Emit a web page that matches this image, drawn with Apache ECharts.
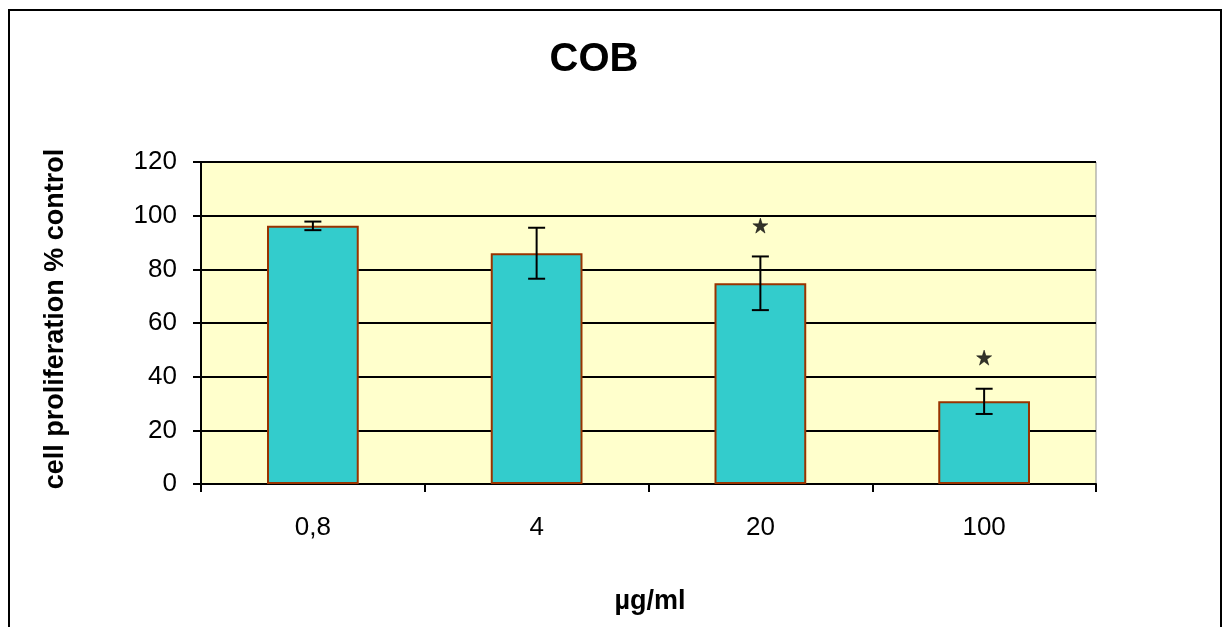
<!DOCTYPE html>
<html>
<head>
<meta charset="utf-8">
<script src="https://cdn.jsdelivr.net/npm/echarts@6/dist/echarts.min.js"></script>
<style>
  html, body { margin: 0; padding: 0; background: #fff; }
  #chart { width: 1227px; height: 627px; }
</style>
</head>
<body>
<div id="chart"></div>
<script>
// Concentrations and mean proliferation (% of control) with error
const categories = ['0,8', '4', '20', '100'];
const means = [96.2, 86.0, 74.8, 30.8];
const errors = [1.6, 9.5, 10.0, 4.7];
// Significance markers (value position of the star; null = none)
const stars = [null, null, 96.3, 47.1];
const yTicks = { min: 0, max: 120, interval: 20 };

const FONT = 'Liberation Sans, Arial, sans-serif';
const chart = echarts.init(document.getElementById('chart'), null, { renderer: 'canvas' });

const errData = categories.map((c, i) => [i, means[i] - errors[i], means[i] + errors[i]]);
const starData = categories.map((c, i) => stars[i] == null ? null : [i, stars[i]]).filter(Boolean);

chart.setOption({
  animation: false,
  backgroundColor: '#ffffff',
  graphic: [
    {
      type: 'rect', z: 100,
      shape: { x: 9, y: 10, width: 1212, height: 640 },
      style: { fill: 'none', stroke: '#000', lineWidth: 2 }
    },
    {
      type: 'text', z: 100, x: 594, y: 60,
      style: { text: 'COB', font: 'bold 40px ' + FONT, fill: '#000',
               textAlign: 'center', textVerticalAlign: 'middle' }
    },
    {
      type: 'text', z: 100, x: 650, y: 602,
      style: { text: 'µg/ml', font: 'bold 27px ' + FONT, fill: '#000',
               textAlign: 'center', textVerticalAlign: 'middle' }
    },
    {
      type: 'text', z: 100, x: 56, y: 319, rotation: Math.PI / 2,
      style: { text: 'cell proliferation % control', font: 'bold 27px ' + FONT, fill: '#000',
               textAlign: 'center', textVerticalAlign: 'middle' }
    }
  ],
  grid: {
    left: 201, top: 162, width: 895, height: 322,
    show: true, backgroundColor: '#FFFFCC', borderColor: '#909090', borderWidth: 1
  },
  xAxis: {
    type: 'category', data: categories,
    axisLine: { lineStyle: { color: '#000', width: 2 } },
    axisTick: { show: true, length: 8, lineStyle: { color: '#000', width: 2 } },
    axisLabel: { color: '#000', fontFamily: FONT, fontSize: 26, margin: 31 }
  },
  yAxis: {
    type: 'value', min: yTicks.min, max: yTicks.max, interval: yTicks.interval,
    axisLine: { show: true, lineStyle: { color: '#000', width: 2 } },
    axisTick: { show: true, length: 8, lineStyle: { color: '#000', width: 2 } },
    axisLabel: { color: '#000', fontFamily: FONT, fontSize: 26, margin: 24 },
    splitLine: { show: true, lineStyle: { color: '#000', width: 2 } }
  },
  series: [
    {
      type: 'bar', data: means, barWidth: '41%', z: 2,
      itemStyle: { color: '#33CCCC', borderColor: '#993300', borderWidth: 2 }
    },
    {
      type: 'custom', z: 5,
      renderItem: function (params, api) {
        const x = api.coord([api.value(0), 0])[0];
        const lo = api.coord([api.value(0), api.value(1)])[1];
        const hi = api.coord([api.value(0), api.value(2)])[1];
        const w = 8.5;
        const st = { stroke: '#000', lineWidth: 2 };
        return {
          type: 'group', children: [
            { type: 'line', shape: { x1: x, y1: lo, x2: x, y2: hi }, style: st },
            { type: 'line', shape: { x1: x - w, y1: lo, x2: x + w, y2: lo }, style: st },
            { type: 'line', shape: { x1: x - w, y1: hi, x2: x + w, y2: hi }, style: st }
          ]
        };
      },
      data: errData
    },
    {
      type: 'scatter', z: 6, data: starData,
      symbol: 'path://M50,0 L61.8,36.2 L100,36.2 L69.1,58.6 L80.9,95.1 L50,72.6 L19.1,95.1 L30.9,58.6 L0,36.2 L38.2,36.2 Z',
      symbolSize: 15,
      itemStyle: { color: '#000', borderColor: '#000', borderWidth: 0.6 }
    }
  ]
});
</script>
</body>
</html>
